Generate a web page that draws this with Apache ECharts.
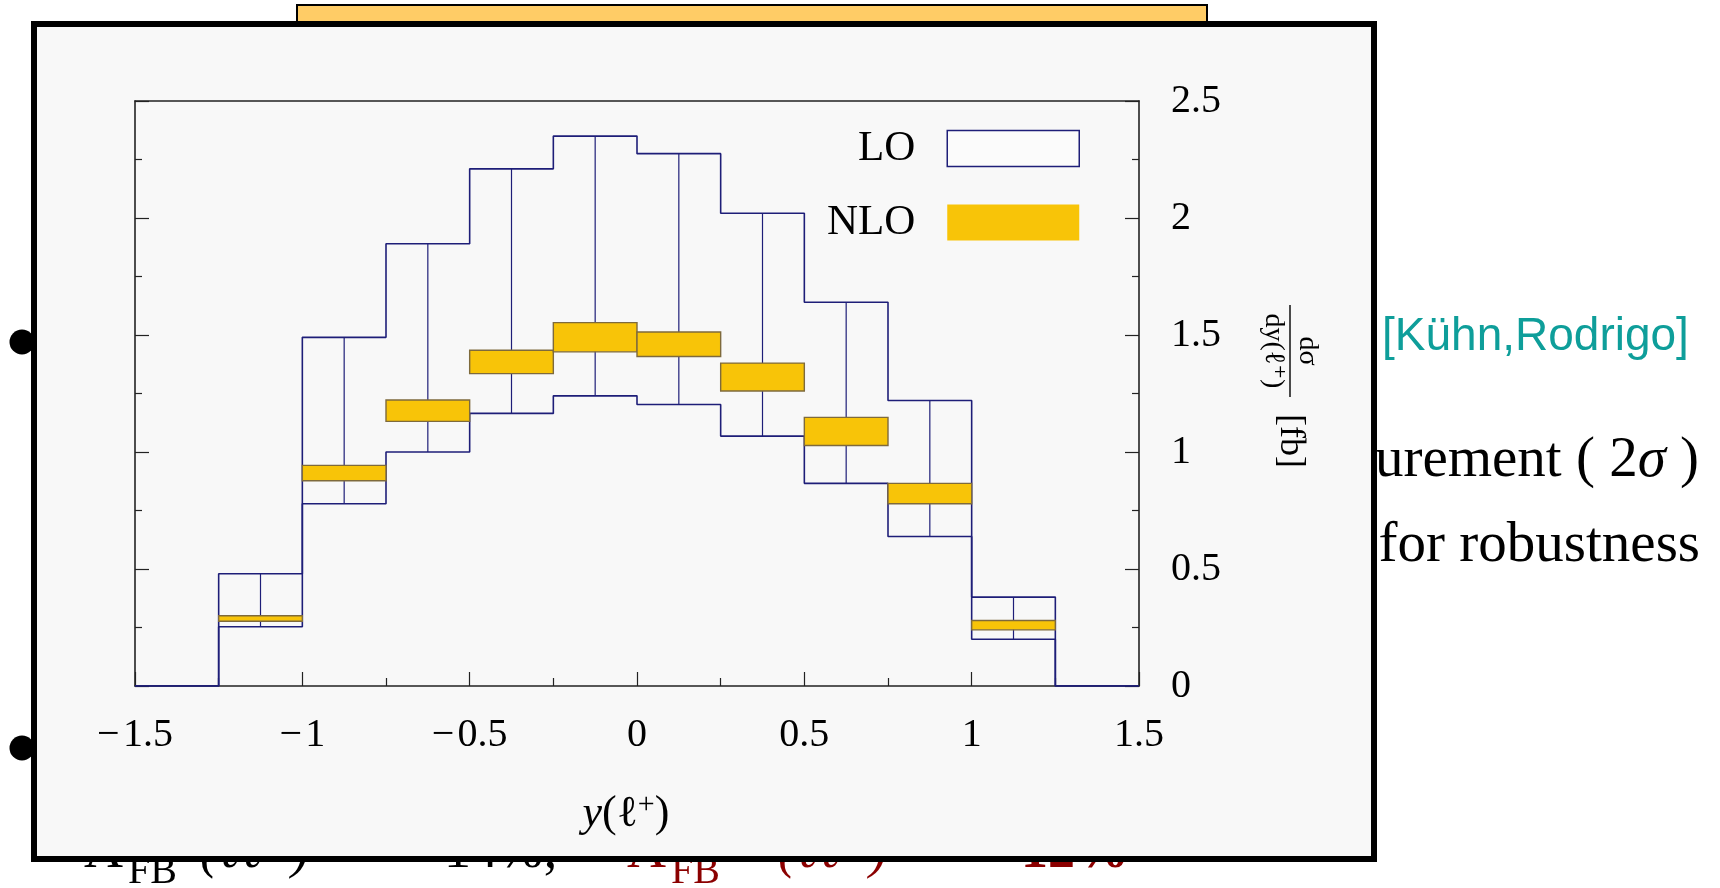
<!DOCTYPE html>
<html>
<head>
<meta charset="utf-8">
<script src="https://cdn.jsdelivr.net/npm/echarts@6/dist/echarts.min.js"></script>
<style>
  html, body { margin: 0; padding: 0; background: #fff; }
  #chart { width: 1720px; height: 888px; }
</style>
</head>
<body>
<div id="chart"></div>
<script>
// bins of y(l+), width 0.25
const binStart = [-1.25, -1.0, -0.75, -0.5, -0.25, 0.0, 0.25, 0.5, 0.75, 1.0]
const binEnd = [-1.0, -0.75, -0.5, -0.25, 0.0, 0.25, 0.5, 0.75, 1.0, 1.25]

// LO band (upper / lower edge) in fb
const loHigh = [0.48, 1.49, 1.89, 2.21, 2.35, 2.275, 2.02, 1.64, 1.22, 0.38]
const loLow = [0.253, 0.779, 1.0, 1.165, 1.24, 1.203, 1.068, 0.866, 0.639, 0.2]

// NLO band
const nloHigh = [0.3, 0.943, 1.222, 1.435, 1.553, 1.513, 1.38, 1.148, 0.866, 0.28]
const nloLow = [0.277, 0.877, 1.131, 1.335, 1.428, 1.408, 1.261, 1.028, 0.779, 0.24]

const xTicks = [-1.5, -1, -0.5, 0, 0.5, 1, 1.5]
const yTicks = [0, 0.5, 1, 1.5, 2, 2.5]

const navy = '#1e1e78'
const gold = '#f8c408'
const serif = '"Liberation Serif", "DejaVu Serif", serif'

const xMin = xTicks[0]
const xMax = xTicks[xTicks.length - 1]

// step outlines of the LO band, zero outside the bins
const stepData = (vals) => [[xMin, 0]]
  .concat(binStart.map((x, i) => [x, vals[i]]))
  .concat([[binEnd[binEnd.length - 1], 0], [xMax, 0]])

const boxData = (hi, lo) => binStart.map((x, i) => [x, binEnd[i], hi[i], lo[i]])

const chart = echarts.init(document.getElementById('chart'))

const frameAxis = {
  axisLine: { show: true, onZero: false, lineStyle: { color: '#222', width: 1.6 } },
  splitLine: { show: false },
  z: 3,
}
const tickStyle = { color: '#222', width: 1.2 }

const option = {
  animation: false,
  backgroundColor: '#fff',
  grid: { left: 135, right: 581, top: 101, bottom: 202, show: false },
  legend: {
    orient: 'vertical',
    align: 'right',
    right: 635,
    top: 122,
    itemWidth: 132,
    itemHeight: 36,
    itemGap: 31,
    selectedMode: false,
    z: 6,
    textStyle: { fontSize: 43, fontFamily: serif, color: '#000', padding: [0, 27, 0, 0] },
    data: [
      { name: 'LO', icon: 'rect', itemStyle: { color: '#fbfbfb', borderColor: navy, borderWidth: 1.5 } },
      { name: 'NLO', icon: 'rect', itemStyle: { color: gold, borderWidth: 0 } },
    ],
  },
  xAxis: [
    {
      ...frameAxis,
      type: 'value',
      position: 'bottom',
      min: xMin,
      max: xMax,
      interval: xTicks[1] - xTicks[0],
      name: '{i|y}(ℓ{sup|+})',
      nameLocation: 'middle',
      nameGap: 104,
      nameTextStyle: {
        fontSize: 44,
        fontFamily: serif,
        color: '#000',
        padding: [0, 22, 0, 0],
        rich: {
          i: { fontSize: 44, fontFamily: serif, fontStyle: 'italic', color: '#000' },
          sup: { fontSize: 30, fontFamily: serif, color: '#000', verticalAlign: 'top', padding: [0, 0, 18, 0] },
        },
      },
      axisTick: { show: true, inside: true, length: 14, lineStyle: tickStyle },
      minorTick: { show: true, splitNumber: 2, length: 8, lineStyle: tickStyle },
      axisLabel: {
        fontSize: 40,
        fontFamily: serif,
        color: '#000',
        margin: 29,
        formatter: (v) => (v < 0 ? '\u2212\u200a' + Math.abs(v) : String(v)),
      },
    },
    {
      ...frameAxis,
      type: 'value',
      position: 'top',
      min: xMin,
      max: xMax,
      axisTick: { show: false },
      axisLabel: { show: false },
    },
  ],
  yAxis: [
    {
      ...frameAxis,
      type: 'value',
      position: 'right',
      min: yTicks[0],
      max: yTicks[yTicks.length - 1],
      interval: yTicks[1] - yTicks[0],
      axisTick: { show: true, inside: true, length: 14, lineStyle: tickStyle },
      minorTick: { show: true, splitNumber: 2, length: 7, lineStyle: tickStyle },
      axisLabel: { fontSize: 40, fontFamily: serif, color: '#000', margin: 32 },
    },
    {
      ...frameAxis,
      type: 'value',
      position: 'left',
      min: yTicks[0],
      max: yTicks[yTicks.length - 1],
      interval: yTicks[1] - yTicks[0],
      axisTick: { show: true, inside: true, length: 14, lineStyle: tickStyle },
      minorTick: { show: true, splitNumber: 2, length: 7, lineStyle: tickStyle },
      axisLabel: { show: false },
    },
  ],
  graphic: [
    // slide behind the figure
    { type: 'rect', z: 0, shape: { x: 297, y: 5, width: 910, height: 20 }, style: { fill: '#ffcc66', stroke: '#000', lineWidth: 2 } },
    { type: 'circle', z: 0, shape: { cx: 22, cy: 342, r: 12.5 }, style: { fill: '#000' } },
    { type: 'circle', z: 0, shape: { cx: 22, cy: 748, r: 12.5 }, style: { fill: '#000' } },
    { type: 'text', z: 0, left: 1382, top: 314, style: { text: '[Kühn,Rodrigo]', fill: '#0e9e9a', font: '46px "Liberation Sans", Arial, sans-serif' } },
    {
      type: 'text', z: 0, x: 1699, y: 490,
      style: {
        text: 'urement ( 2{i|σ} )', fill: '#000', font: '57px ' + serif, align: 'right', verticalAlign: 'bottom',
        rich: { i: { font: 'italic 57px ' + serif, fill: '#000' } },
      },
    },
    { type: 'text', z: 0, x: 1700, y: 575, style: { text: 'for robustness', fill: '#000', font: '57px ' + serif, align: 'right', verticalAlign: 'bottom' } },
    { type: 'text', z: 0, x: 84, y: 880, style: { text: 'A', fill: '#000', font: '54px ' + serif, verticalAlign: 'bottom' } },
    { type: 'text', z: 0, x: 128, y: 892, style: { text: 'FB', fill: '#000', font: '40px ' + serif, verticalAlign: 'bottom' } },
    { type: 'text', z: 0, x: 200, y: 880, style: { text: '(ℓℓ⁺)', fill: '#000', font: 'italic 54px ' + serif, verticalAlign: 'bottom' } },
    { type: 'text', z: 0, x: 444, y: 880, style: { text: '14%;', fill: '#000', font: '54px ' + serif, verticalAlign: 'bottom' } },
    { type: 'text', z: 0, x: 627, y: 880, style: { text: 'A', fill: '#8b0000', font: '54px ' + serif, verticalAlign: 'bottom' } },
    { type: 'text', z: 0, x: 671, y: 892, style: { text: 'FB', fill: '#8b0000', font: '40px ' + serif, verticalAlign: 'bottom' } },
    { type: 'text', z: 0, x: 778, y: 880, style: { text: '(ℓℓ⁺)', fill: '#8b0000', font: 'italic 54px ' + serif, verticalAlign: 'bottom' } },
    { type: 'text', z: 0, x: 1021, y: 880, style: { text: '12%', fill: '#8b0000', font: 'bold 54px ' + serif, verticalAlign: 'bottom' } },
    // figure panel
    { type: 'rect', z: 1, shape: { x: 34, y: 24, width: 1340, height: 835 }, style: { fill: '#f8f8f8', stroke: '#000', lineWidth: 6 } },
    // y axis title, rotated clockwise
    {
      type: 'group',
      z: 5,
      x: 1290,
      y: 387,
      rotation: -Math.PI / 2,
      children: [
        { type: 'line', z: 5, shape: { x1: -82, y1: 0, x2: 10, y2: 0 }, style: { stroke: '#000', lineWidth: 1.4 } },
        { type: 'text', z: 5, x: -36, y: -3, style: { text: 'dσ', fill: '#000', font: '28px ' + serif, align: 'center', verticalAlign: 'bottom' } },
        { type: 'text', z: 5, x: -36, y: 3, style: { text: 'dy(ℓ⁺)', fill: '#000', font: '28px ' + serif, align: 'center', verticalAlign: 'top' } },
        { type: 'text', z: 5, x: 54, y: 0, style: { text: '[fb]', fill: '#000', font: '36px ' + serif, align: 'center', verticalAlign: 'middle' } },
      ],
    },
  ],
  series: [
    {
      name: 'LO',
      type: 'line',
      step: 'end',
      symbol: 'none',
      z: 4,
      lineStyle: { color: navy, width: 1.6 },
      itemStyle: { color: navy },
      data: stepData(loHigh),
    },
    {
      name: 'LO',
      type: 'line',
      step: 'end',
      symbol: 'none',
      z: 4,
      lineStyle: { color: navy, width: 1.6 },
      itemStyle: { color: navy },
      data: stepData(loLow),
    },
    {
      // centre lines of the LO boxes
      name: 'LO',
      type: 'custom',
      z: 4,
      encode: { x: [0, 1], y: [2, 3] },
      data: boxData(loHigh, loLow),
      renderItem: (params, api) => {
        const xc = (api.value(0) + api.value(1)) / 2
        const top = api.coord([xc, api.value(2)])
        const bot = api.coord([xc, api.value(3)])
        return {
          type: 'line',
          shape: { x1: top[0], y1: top[1], x2: bot[0], y2: bot[1] },
          style: { stroke: navy, lineWidth: 1.2 },
        }
      },
    },
    {
      name: 'NLO',
      type: 'custom',
      z: 5,
      encode: { x: [0, 1], y: [2, 3] },
      itemStyle: { color: gold },
      data: boxData(nloHigh, nloLow),
      renderItem: (params, api) => {
        const p1 = api.coord([api.value(0), api.value(2)])
        const p2 = api.coord([api.value(1), api.value(3)])
        return {
          type: 'rect',
          shape: { x: p1[0], y: p1[1], width: p2[0] - p1[0], height: p2[1] - p1[1] },
          style: { fill: gold, stroke: '#7e6a3c', lineWidth: 1.4 },
        }
      },
    },
  ],
}

chart.setOption(option)

window.addEventListener('resize', () => chart.resize())
</script>
</body>
</html>
